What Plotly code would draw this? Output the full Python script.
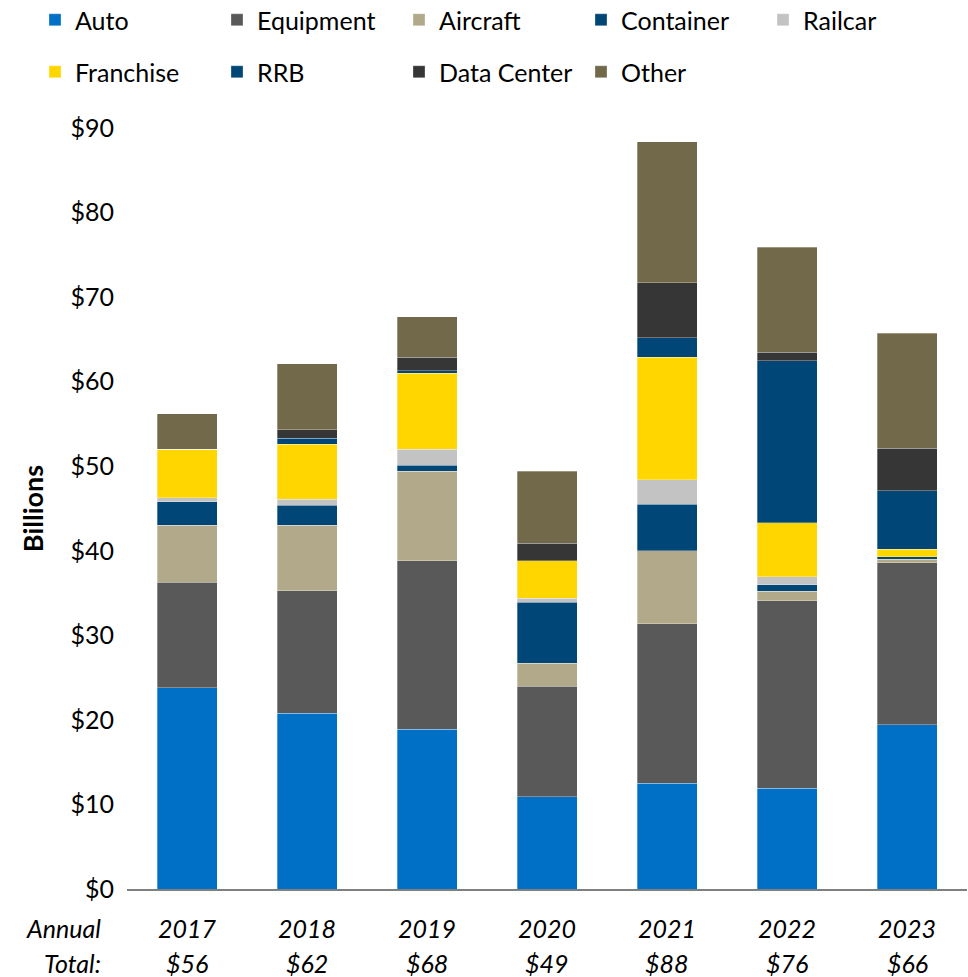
import plotly.graph_objects as go

# Annual issuance by collateral type, $ billions
years = ["2017", "2018", "2019", "2020", "2021", "2022", "2023"]
annual_totals = [56, 62, 68, 49, 88, 76, 66]
y_ticks = [0, 10, 20, 30, 40, 50, 60, 70, 80, 90]

auto = [23.8, 20.8, 18.9, 10.9, 12.5, 11.9, 19.4]
equipment = [12.5, 14.5, 19.9, 13.1, 18.9, 22.2, 19.2]
aircraft = [6.7, 7.7, 10.6, 2.7, 8.6, 1.1, 0.4]
container = [2.8, 2.4, 0.7, 7.2, 5.5, 0.8, 0.3]
railcar = [0.5, 0.7, 1.9, 0.5, 2.9, 0.9, 0.0]
franchise = [5.7, 6.5, 9.0, 4.4, 14.5, 6.4, 0.9]
rrb = [0.0, 0.7, 0.3, 0.0, 2.3, 19.2, 6.9]
data_center = [0.0, 1.0, 1.6, 2.1, 6.5, 1.0, 5.0]
other = [4.2, 7.8, 4.8, 8.5, 16.7, 12.4, 13.6]

series = [
    ("Auto", auto, "#0070C6", "legend"),
    ("Equipment", equipment, "#595959", "legend"),
    ("Aircraft", aircraft, "#B2A98B", "legend"),
    ("Container", container, "#004677", "legend"),
    ("Railcar", railcar, "#C3C3C3", "legend"),
    ("Franchise", franchise, "#FFD600", "legend2"),
    ("RRB", rrb, "#004677", "legend2"),
    ("Data Center", data_center, "#363636", "legend2"),
    ("Other", other, "#72694B", "legend2"),
]

FONT = "Lato"
W, H = 968, 977
L_MARGIN, R_MARGIN, T_MARGIN, B_MARGIN = 127, 1, 128, 88
PLOT_W = W - L_MARGIN - R_MARGIN
PLOT_H = H - T_MARGIN - B_MARGIN

fig = go.Figure()
for name, vals, color, leg in series:
    fig.add_trace(go.Bar(
        x=years, y=vals, name=name, legend=leg,
        marker=dict(color=color, line=dict(color="rgba(255,255,255,0.5)", width=0.6)),
    ))

# Legends sit above and left of the plot area so each row can span the full width
legend_common = dict(
    orientation="h", xref="paper", yref="paper",
    x=(35 - L_MARGIN) / PLOT_W, xanchor="left", yanchor="middle",
    font=dict(family=FONT, size=25, color="#000000"),
    entrywidth=137, entrywidthmode="pixels",
    bgcolor="rgba(0,0,0,0)", traceorder="normal",
)

label_font = dict(family=FONT, size=25, color="#000000", style="italic")
annotations = []
# Year and annual-total labels beneath each bar
for i, (yr, tot) in enumerate(zip(years, annual_totals)):
    annotations.append(dict(
        x=i, xref="x", y=0, yref="paper", yshift=-39,
        text=yr, showarrow=False, yanchor="middle", font=label_font,
    ))
    annotations.append(dict(
        x=i, xref="x", y=0, yref="paper", yshift=-74,
        text=f"${tot}", showarrow=False, yanchor="middle", font=label_font,
    ))
for txt, shift in (("Annual", -39), ("Total:", -74)):
    annotations.append(dict(
        x=(103 - L_MARGIN) / PLOT_W, xref="paper", xanchor="right",
        y=0, yref="paper", yshift=shift, yanchor="middle",
        text=txt, showarrow=False, font=label_font,
    ))

fig.update_layout(
    width=W, height=H,
    barmode="stack", bargap=0.5,
    margin=dict(l=L_MARGIN, r=R_MARGIN, t=T_MARGIN, b=B_MARGIN, autoexpand=False),
    plot_bgcolor="#FFFFFF", paper_bgcolor="#FFFFFF",
    font=dict(family=FONT, size=25, color="#000000"),
    legend=dict(legend_common, y=1 + (T_MARGIN - 20) / PLOT_H),
    legend2=dict(legend_common, y=1 + (T_MARGIN - 72) / PLOT_H),
    annotations=annotations,
    xaxis=dict(
        type="category", range=[-0.5, len(years) - 0.5],
        showticklabels=False, showgrid=False,
        showline=True, linecolor="#7F7F7F", linewidth=2,
        ticks="", zeroline=False,
    ),
    yaxis=dict(
        range=[0, 90], tickvals=y_ticks, ticktext=[f"${v}" for v in y_ticks],
        showgrid=False, zeroline=False, showline=False,
        ticks="outside", ticklen=7, tickcolor="rgba(0,0,0,0)",
        tickfont=dict(family=FONT, size=25, color="#000000"),
        title=dict(text="<b>Billions</b>", standoff=19,
                   font=dict(family=FONT, size=27, color="#000000")),
    ),
)

fig.write_html("out.html")
